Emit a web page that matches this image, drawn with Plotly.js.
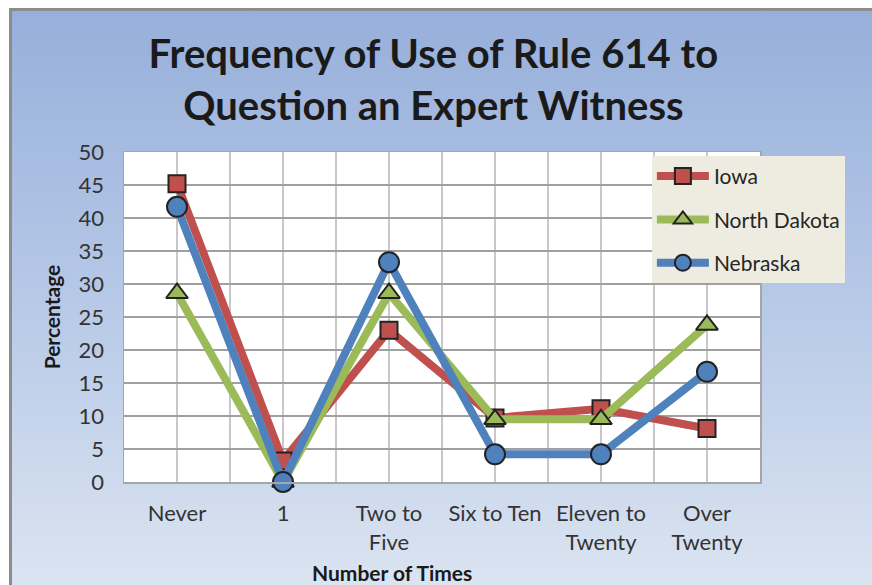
<!DOCTYPE html>
<html>
<head>
<meta charset="utf-8">
<script src="https://cdn.plot.ly/plotly-3.0.1.min.js"></script>
<style>
  html, body { margin:0; padding:0; background:#ffffff; }
  #frame { position:absolute; left:9px; top:8px; width:860px; height:577px;
           border-top:3px solid #8c8c8c; border-left:3px solid #8c8c8c;
           background:linear-gradient(to bottom, #97afda 0%, #b3c6e6 45%, #dbe4f1 100%); }
  #chart { position:absolute; left:0; top:0; width:872px; height:585px; }
</style>
</head>
<body>
<div id="frame"></div>
<div id="chart"></div>
<script>
const categories = ['Never', '1', 'Two to<br>Five', 'Six to Ten', 'Eleven to<br>Twenty', 'Over<br>Twenty'];
const seriesNames = ['Iowa', 'North Dakota', 'Nebraska'];
const iowa = [45.2, 3.2, 23.0, 9.7, 11.1, 8.1];
const northDakota = [28.6, 0, 28.6, 9.5, 9.5, 23.8];
const nebraska = [41.7, 0, 33.3, 4.2, 4.2, 16.7];
const yTicks = [0, 5, 10, 15, 20, 25, 30, 35, 40, 45, 50];

const idx = categories.map((c, i) => i);

function tr(name, y, color, symbol, size, group) {
  return {
    type: 'scatter', mode: 'lines+markers', name: name, x: idx, y: y,
    legendgroup: group, cliponaxis: false,
    line: { color: color, width: 8 },
    marker: { color: color, symbol: symbol, size: size, line: { color: '#222222', width: 2 } }
  };
}

const data = [
  tr(seriesNames[0], iowa, '#C0504D', 'square', 17, 'g1'),
  tr(seriesNames[1], northDakota, '#9BBB59', 'triangle-up', 19, 'g2'),
  tr(seriesNames[2], nebraska, '#4F81BD', 'circle', 20, 'g3')
];

const layout = {
  width: 872, height: 585,
  paper_bgcolor: 'rgba(0,0,0,0)', plot_bgcolor: '#ffffff',
  margin: { l: 124, r: 112, t: 152, b: 103 },
  font: { family: 'Lato, "Open Sans", sans-serif', color: '#262626' },
  title: {
    text: 'Frequency of Use of Rule 614 to<br>Question an Expert Witness',
    font: { size: 40, family: 'Lato, "Open Sans", sans-serif', color: '#1a1a1a', weight: 'bold' },
    x: 0.497, xanchor: 'center', y: 0.884, yanchor: 'middle'
  },
  showlegend: true,
  legend: {
    x: 0.83, xanchor: 'left', y: 0.988, yanchor: 'top',
    bgcolor: '#EEECE1', borderwidth: 0,
    font: { size: 21, color: '#262626' },
    tracegroupgap: 13, itemwidth: 52
  },
  xaxis: {
    type: 'linear', range: [-0.5, 5.5],
    tickmode: 'array', tickvals: idx, ticktext: categories,
    tickfont: { size: 22, color: '#333333' },
    ticks: '', ticklabelstandoff: 11,
    showgrid: true, gridcolor: '#c8c8c8', gridwidth: 1.3,
    minor: { tickmode: 'linear', tick0: -0.5, dtick: 1, showgrid: true, gridcolor: '#c8c8c8', gridwidth: 1.3 },
    zeroline: false, showline: true, mirror: true, linecolor: '#a6a6a6', linewidth: 1.5,
    fixedrange: true
  },
  yaxis: {
    range: [0, 50], tickmode: 'array', tickvals: yTicks,
    tickfont: { size: 22, color: '#333333' },
    ticks: '', ticklabelstandoff: 14,
    showgrid: true, gridcolor: '#a0a0a0', gridwidth: 1.3,
    zeroline: false, showline: true, mirror: true, linecolor: '#a6a6a6', linewidth: 1.5,
    title: { text: 'Percentage', standoff: 12, font: { size: 21, color: '#1a1a1a', weight: 'bold' } },
    fixedrange: true
  },
  annotations: [{
    text: 'Number of Times', xref: 'paper', yref: 'paper', x: 0.4214, y: -0.273,
    xanchor: 'center', yanchor: 'middle', showarrow: false,
    font: { size: 21, color: '#1a1a1a', weight: 'bold' }
  }]
};

Plotly.newPlot('chart', data, layout, { displayModeBar: false, staticPlot: true });
</script>
</body>
</html>
